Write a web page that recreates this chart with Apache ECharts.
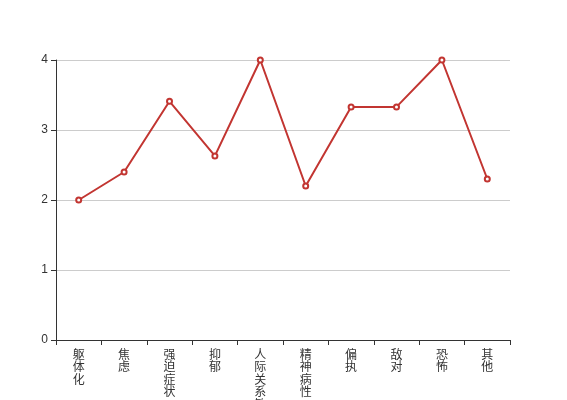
<!DOCTYPE html>
<html><head><meta charset="utf-8">
<script src="https://cdn.jsdelivr.net/npm/echarts@6/dist/echarts.min.js"></script>
<style>html,body{margin:0;padding:0;background:#fff}#c{width:567px;height:400px}</style>
</head><body><div id="c"></div>
<script>
var categories = ['躯体化','焦虑','强迫症状','抑郁','人际关系敏感','精神病性','偏执','敌对','恐怖','其他'];
var values = [2.0, 2.4, 3.41, 2.63, 4.0, 2.2, 3.33, 3.33, 4.0, 2.3];
var yTicks = [0, 1, 2, 3, 4];

var chart = echarts.init(document.getElementById('c'));
chart.setOption({
  animation: false,
  grid: {left: 56, right: 57, top: 60, bottom: 60, containLabel: false, outerBoundsMode: 'none'},
  xAxis: {
    type: 'category', data: categories, boundaryGap: true,
    axisLine: {lineStyle: {color: '#333'}},
    axisTick: {show: true, lineStyle: {color: '#333'}, length: 5},
    axisLabel: {color: '#333', fontSize: 12, lineHeight: 12.5, interval: 0, margin: 8,
      fontFamily: 'Noto Sans CJK SC',
      formatter: function (v) { return v.split('').join('\n'); }}
  },
  yAxis: {
    type: 'value', min: yTicks[0], max: yTicks[yTicks.length - 1], interval: 1,
    axisLine: {show: true, lineStyle: {color: '#333'}},
    axisTick: {show: true, lineStyle: {color: '#333'}, length: 5},
    axisLabel: {color: '#333', fontSize: 12, fontFamily: 'Liberation Sans'},
    splitLine: {lineStyle: {color: '#ccc'}}
  },
  series: [{
    type: 'line', data: values,
    lineStyle: {color: '#c23531', width: 2},
    itemStyle: {color: '#c23531', borderWidth: 1},
    symbol: 'emptyCircle', symbolSize: 5
  }]
});
</script></body></html>
